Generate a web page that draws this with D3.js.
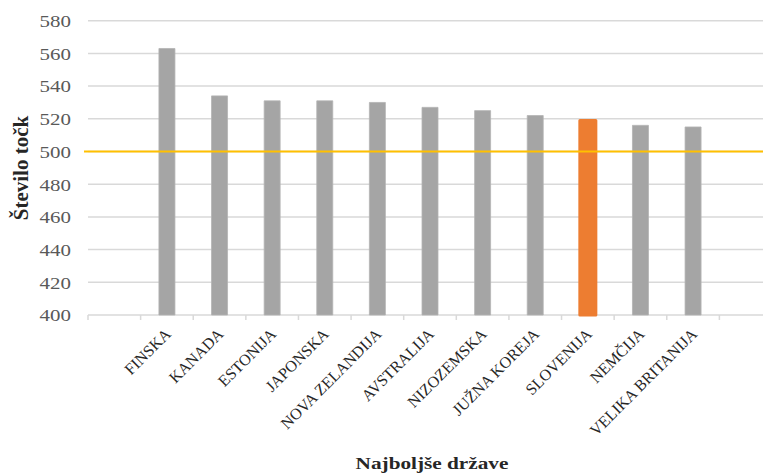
<!DOCTYPE html>
<html>
<head>
<meta charset="utf-8">
<script src="https://cdn.jsdelivr.net/npm/d3@7"></script>
<style>
  html, body { margin: 0; padding: 0; background: #fff; }
  svg { display: block; }
  text { font-family: "Liberation Serif", "Times New Roman", serif; }
</style>
</head>
<body>
<svg id="chart" width="763" height="473"></svg>
<script>
// ---- data ----
const categories = ["", "FINSKA", "KANADA", "ESTONIJA", "JAPONSKA", "NOVA ZELANDIJA", "AVSTRALIJA",
  "NIZOZEMSKA", "JUŽNA KOREJA", "SLOVENIJA", "NEMČIJA", "VELIKA BRITANIJA", " "];
const scores = [null, 563, 534, 531, 531, 530, 527, 525, 522, 519, 516, 515, null];
const highlighted = ["SLOVENIJA"];
const averageValue = [500];
const yTicks = [400, 420, 440, 460, 480, 500, 520, 540, 560, 580];
const yTitle = "Število točk";
const xTitle = "Najboljše države";

// ---- layout ----
const svg = d3.select("#chart");
const x = d3.scaleBand().domain(categories).range([88, 772]).paddingInner(0).paddingOuter(0);
const y = d3.scaleLinear().domain([400, 580]).range([315, 20.7]);

// gridlines
svg.append("g").selectAll("line").data(yTicks).join("line")
  .attr("x1", 88).attr("x2", 772)
  .attr("y1", d => y(d)).attr("y2", d => y(d))
  .attr("stroke", "#D9D9D9").attr("stroke-width", 1.5);

// category tick marks
const bounds = categories.map(c => x(c));
svg.append("g").selectAll("line").data(bounds).join("line")
  .attr("x1", d => d).attr("x2", d => d)
  .attr("y1", y(400)).attr("y2", y(400) + 5)
  .attr("stroke", "#D9D9D9").attr("stroke-width", 1.5);

// y tick labels
svg.append("g").selectAll("text").data(yTicks).join("text")
  .attr("transform", d => `translate(71,${y(d) + 6.3}) scale(1.27,1)`)
  .attr("text-anchor", "end")
  .attr("font-size", 16.5)
  .attr("fill", "#595959")
  .text(d => d);

// bars
const barData = categories.map((c, i) => ({ c, v: scores[i] })).filter(d => d.v != null);
svg.append("g").selectAll("rect").data(barData).join("rect")
  .attr("x", d => x(d.c) + x.bandwidth() / 2 - 8)
  .attr("width", 16)
  .attr("y", d => y(d.v))
  .attr("height", d => y(400) - y(d.v))
  .attr("fill", d => highlighted.includes(d.c) ? "#ED7D31" : "#A5A5A5")
  .attr("stroke", d => highlighted.includes(d.c) ? "#ED7D31" : "#B4B4B4")
  .attr("stroke-width", d => highlighted.includes(d.c) ? 3 : 0.8)
  .attr("stroke-linejoin", "round");

// average line
svg.append("line")
  .attr("x1", 84).attr("x2", 772)
  .attr("y1", y(averageValue[0])).attr("y2", y(averageValue[0]))
  .attr("stroke", "#FFC000").attr("stroke-width", 2);

// x category labels
svg.append("g").selectAll("text").data(barData).join("text")
  .attr("transform", d => `translate(${x(d.c) + x.bandwidth() / 2 + 5},335) rotate(-45)`)
  .attr("text-anchor", "end")
  .attr("font-size", 16)
  .attr("fill", "#262626")
  .text(d => d.c);

// axis titles
svg.append("text")
  .attr("transform", "translate(432,469) scale(1.25,1)")
  .attr("text-anchor", "middle")
  .attr("font-weight", "bold")
  .attr("font-size", 17)
  .attr("fill", "#262626")
  .text(xTitle);

svg.append("text")
  .attr("transform", "translate(28,168) rotate(-90)")
  .attr("text-anchor", "middle")
  .attr("font-weight", "bold")
  .attr("font-size", 21)
  .attr("fill", "#262626")
  .text(yTitle);
</script>
</body>
</html>
